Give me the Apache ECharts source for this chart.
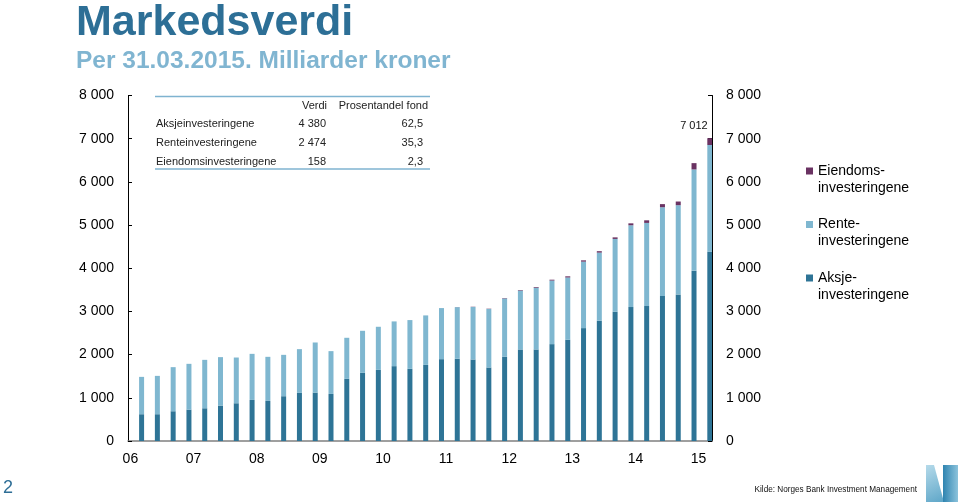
<!DOCTYPE html>
<html><head><meta charset="utf-8">
<script src="https://cdn.jsdelivr.net/npm/echarts@6/dist/echarts.min.js"></script>
<style>html,body{margin:0;padding:0;background:#fff}#c{width:960px;height:502px}</style>
</head><body><div id="c"></div>
<script>
const quarters = [
  '2006 K1','2006 K2','2006 K3','2006 K4','2007 K1','2007 K2','2007 K3','2007 K4',
  '2008 K1','2008 K2','2008 K3','2008 K4','2009 K1','2009 K2','2009 K3','2009 K4',
  '2010 K1','2010 K2','2010 K3','2010 K4','2011 K1','2011 K2','2011 K3','2011 K4',
  '2012 K1','2012 K2','2012 K3','2012 K4','2013 K1','2013 K2','2013 K3','2013 K4',
  '2014 K1','2014 K2','2014 K3','2014 K4','2015 K1'
];
const yearLabels = ['06','07','08','09','10','11','12','13','14','15'];
const aksje = [620,620,689,726,758,820,874,951,928,1037,1114,1121,1090,1439,1578,1647,1733,1671,1763,1895,1903,1887,1702,1949,2119,2119,2243,2343,2614,2784,2993,3101,3125,3357,3395,3944,4380];
const rente = [865,888,1021,1061,1121,1122,1059,1067,1021,958,1013,1160,991,951,974,998,1036,1129,1145,1183,1196,1217,1354,1352,1365,1431,1472,1443,1539,1578,1686,1894,1925,2056,2065,2344,2474];
const eiendom = [0,0,0,0,0,0,0,0,0,0,0,0,0,0,0,0,0,0,0,0,2,5,7,9,12,16,20,27,30,33,36,45,60,72,85,146,158];
const seriesNames = ['Aksjeinvesteringene','Renteinvesteringene','Eiendomsinvesteringene'];
const colors = ['#2e7496','#7fb7d0','#6a3262'];

const FONT = 'Liberation Sans, Arial, sans-serif';
const fmt = v => String(Math.round(v)).replace(/\B(?=(\d{3})+(?!\d))/g, ' ');
const last = quarters.length - 1;
const lastVals = [aksje[last], rente[last], eiendom[last]];
const total = lastVals[0] + lastVals[1] + lastVals[2];
const pct = v => (Math.round(v / total * 1000) / 10).toFixed(1).replace('.', ',');

const chart = echarts.init(document.getElementById('c'), null, {renderer: 'canvas'});

const tableEls = [];
tableEls.push({type:'line', shape:{x1:155,y1:96.5,x2:430,y2:96.5}, style:{stroke:'#7fb3d0', lineWidth:1.5}, silent:true});
tableEls.push({type:'line', shape:{x1:155,y1:169,x2:430,y2:169}, style:{stroke:'#7fb3d0', lineWidth:1.5}, silent:true});
tableEls.push({type:'text', x:327, y:105.5, style:{text:'Verdi', font:'11px ' + FONT, fill:'#222', align:'right', verticalAlign:'middle'}});
tableEls.push({type:'text', x:428, y:105.5, style:{text:'Prosentandel fond', font:'11px ' + FONT, fill:'#222', align:'right', verticalAlign:'middle'}});
const rowY = [124.3, 143.2, 161.6];
seriesNames.forEach((n, i) => {
  tableEls.push({type:'text', x:156, y:rowY[i], style:{text:n, font:'11px ' + FONT, fill:'#222', align:'left', verticalAlign:'middle'}});
  tableEls.push({type:'text', x:326, y:rowY[i], style:{text:fmt(lastVals[i]), font:'11px ' + FONT, fill:'#222', align:'right', verticalAlign:'middle'}});
  tableEls.push({type:'text', x:423, y:rowY[i], style:{text:pct(lastVals[i]), font:'11px ' + FONT, fill:'#222', align:'right', verticalAlign:'middle'}});
});
// page number, source, logo
tableEls.push({type:'text', x:3, y:488, style:{text:'2', font:'18px ' + FONT, fill:'#2e6e96', align:'left', verticalAlign:'middle'}});
tableEls.push({type:'text', x:917, y:490, style:{text:'Kilde: Norges Bank Investment Management', font:'8.2px ' + FONT, fill:'#111', align:'right', verticalAlign:'middle'}});
tableEls.push({type:'polygon', shape:{points:[[926,465],[934,465],[944,502],[926,502]]},
  style:{fill:new echarts.graphic.LinearGradient(0,0,1,1,[{offset:0,color:'#b5daea'},{offset:1,color:'#5ea6c8'}])}, silent:true});
tableEls.push({type:'rect', shape:{x:943,y:465,width:15,height:37},
  style:{fill:new echarts.graphic.LinearGradient(0,0,1,0,[{offset:0,color:'#2f84b0'},{offset:1,color:'#8cc3dc'}])}, silent:true});

const barCommon = {type:'bar', stack:'fund', barWidth:5, barGap:'128%'};

chart.setOption({
  animation:false,
  textStyle:{fontFamily:FONT},
  title:{
    text:'Markedsverdi', subtext:'Per 31.03.2015. Milliarder kroner',
    left:76, top:2, padding:0, itemGap:3.5,
    textStyle:{fontSize:43, fontWeight:'bold', color:'#2d6f96', lineHeight:43, fontFamily:FONT},
    subtextStyle:{fontSize:24.5, fontWeight:'bold', color:'#80b5d1', lineHeight:25, fontFamily:FONT}
  },
  legend:{
    orient:'vertical', left:806, top:162.5, padding:0, itemGap:19.5,
    itemWidth:7, itemHeight:24, icon:'path://M0,0L7,0L7,7L0,7Z M0,24L0,24',
    data:['Eiendomsinvesteringene','Renteinvesteringene','Aksjeinvesteringene'],
    formatter: n => n.replace('investeringene', '-\ninvesteringene'),
    textStyle:{fontSize:14, color:'#000', lineHeight:17, fontFamily:FONT}
  },
  grid:{left:128, right:248, top:95.5, bottom:61},
  xAxis:{
    type:'category', data:quarters,
    axisLine:{lineStyle:{color:'#808080', width:1.5}},
    axisTick:{show:false},
    axisLabel:{interval:3, formatter:(v, i) => yearLabels[i / 4], fontSize:14, color:'#000', margin:11, padding:[0,11,0,0]}
  },
  yAxis:[0,1].map(k => ({
    type:'value', position: k ? 'right' : 'left', min:0, max:8000, interval:1000,
    axisLine:{show:true, lineStyle:{color:'#000', width:1}},
    axisTick:{show:true, inside:true, length:4, lineStyle:{color:'#000'}},
    axisLabel:{formatter:fmt, fontSize:14, color:'#000', margin:14},
    splitLine:{show:false}
  })),
  series:[
    {type:'bar', name:'_pad', stack:'pad', barWidth:5, barGap:'128%', data:quarters.map(() => null), silent:true},
    Object.assign({}, barCommon, {name:seriesNames[0], data:aksje, itemStyle:{color:colors[0]}}),
    Object.assign({}, barCommon, {name:seriesNames[1], data:rente, itemStyle:{color:colors[1]}}),
    Object.assign({}, barCommon, {name:seriesNames[2], itemStyle:{color:colors[2]},
      label:{show:false, position:'top', distance:7, align:'right', offset:[-2,0], fontSize:11, color:'#111'},
      data:eiendom.map((v, i) => i === last ? {value:v, label:{show:true, formatter:fmt(total)}} : v)})
  ],
  graphic:tableEls
});
</script></body></html>
